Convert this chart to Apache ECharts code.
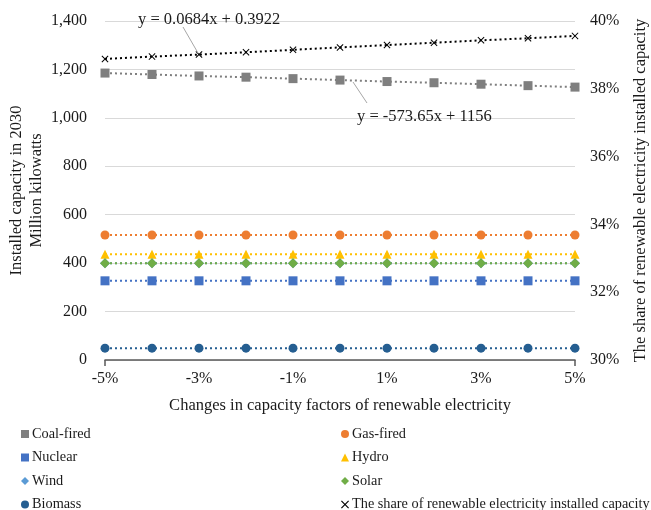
<!DOCTYPE html>
<html><head><meta charset="utf-8">
<script src="https://cdn.jsdelivr.net/npm/echarts@6/dist/echarts.min.js"></script>
<style>html,body{margin:0;padding:0;background:#fff}#c{width:651px;height:510px}</style>
</head><body><div id="c"></div>
<script>
var categories = ['-5%','-4%','-3%','-2%','-1%','0%','1%','2%','3%','4%','5%'];
var coalFired = [1185,1179,1173,1168,1162,1156,1150,1145,1139,1133,1127];
var gasFired  = [516,516,516,516,516,516,516,516,516,516,516];
var nuclear   = [327,327,327,327,327,327,327,327,327,327,327];
var hydro     = [437,437,437,437,437,437,437,437,437,437,437];
var wind      = [400,400,400,400,400,400,400,400,400,400,400];
var solar     = [400,400,400,400,400,400,400,400,400,400,400];
var biomass   = [49,49,49,49,49,49,49,49,49,49,49];
var renewShare = [38.88,38.95,39.01,39.08,39.15,39.22,39.29,39.36,39.43,39.49,39.56]; // percent
var leftTicks = {min:0, max:1400, interval:200};
var rightTicks = {min:30, max:40, interval:2};

var FONT = '"Liberation Serif","Times New Roman",serif';
var crossPath = 'path://M1,0L5,4L9,0L10,1L6,5L10,9L9,10L5,6L1,10L0,9L4,5L0,1Z';

function mk(name, data, color, symbol, size, yIdx){
  return {
    name:name, type:'line', data:data, yAxisIndex:yIdx||0,
    symbol:symbol, symbolSize:size,
    itemStyle:{color:color},
    lineStyle:{color:color, type:[2,3], width:2},
    emphasis:{disabled:true}, animation:false
  };
}

var chart = echarts.init(document.getElementById('c'), null, {renderer:'canvas'});
var option = {
  animation:false,
  textStyle:{fontFamily:FONT},
  grid:{left:105, right:76, top:21, bottom:150, containLabel:false, outerBoundsMode:'none'},
  xAxis:{
    type:'category', data:categories, boundaryGap:false,
    axisLine:{lineStyle:{color:'#595959', width:1.5}},
    axisTick:{show:true, length:6, lineStyle:{color:'#595959',width:1.5}, interval:function(i){return i===0||i===categories.length-1;}},
    axisLabel:{interval:1, color:'#1a1a1a', fontSize:16, fontFamily:FONT, margin:11},
    name:'Changes in capacity factors of renewable electricity',
    nameLocation:'middle', nameGap:37,
    nameTextStyle:{fontSize:16.5, color:'#1a1a1a', fontFamily:FONT},
    splitLine:{show:false}
  },
  yAxis:[{
    type:'value', min:leftTicks.min, max:leftTicks.max, interval:leftTicks.interval,
    axisLine:{show:false}, axisTick:{show:false},
    axisLabel:{color:'#1a1a1a', fontSize:16, fontFamily:FONT, margin:18,
      formatter:function(v){return v.toLocaleString('en-US');}},
    splitLine:{lineStyle:{color:'#d9d9d9', width:1}},
    name:'Installed capacity in 2030\nMillion kilowatts',
    nameLocation:'middle', nameGap:58, nameRotate:90, nameMoveOverlap:false,
    nameTextStyle:{fontSize:16.5, color:'#1a1a1a', fontFamily:FONT, lineHeight:20}
  },{
    type:'value', position:'right', min:rightTicks.min, max:rightTicks.max, interval:rightTicks.interval,
    axisLine:{show:false}, axisTick:{show:false},
    axisLabel:{color:'#1a1a1a', fontSize:16, fontFamily:FONT, margin:15, formatter:'{value}%'},
    splitLine:{show:false},
    name:'The share of renewable electricity installed capacity',
    nameLocation:'middle', nameGap:57, nameRotate:90, nameMoveOverlap:false,
    nameTextStyle:{fontSize:16.5, color:'#1a1a1a', fontFamily:FONT}
  }],
  legend:[{
    orient:'vertical', left:16, top:422, height:100, itemGap:9.5, itemWidth:8, itemHeight:8,
    textStyle:{fontSize:14.3, fontFamily:FONT, color:'#1a1a1a', padding:[0,0,0,-2]},
    data:[{name:'Coal-fired',icon:'rect'},{name:'Nuclear',icon:'rect'},{name:'Wind',icon:'diamond'},{name:'Biomass',icon:'circle'}]
  },{
    orient:'vertical', left:336, top:422, height:100, itemGap:9.5, itemWidth:8, itemHeight:8,
    textStyle:{fontSize:14.3, fontFamily:FONT, color:'#1a1a1a', padding:[0,0,0,-2]},
    data:[{name:'Gas-fired',icon:'circle'},{name:'Hydro',icon:'triangle'},{name:'Solar',icon:'diamond'},{name:'The share of renewable electricity installed capacity',icon:crossPath}]
  }],
  series:[
    mk('Coal-fired', coalFired, '#7f7f7f', 'rect', 9),
    mk('Gas-fired', gasFired, '#ED7D31', 'circle', 9),
    mk('Nuclear', nuclear, '#4472C4', 'rect', 9),
    mk('Hydro', hydro, '#FFC000', 'triangle', 9),
    mk('Wind', wind, '#5B9BD5', 'diamond', 10),
    mk('Solar', solar, '#70AD47', 'diamond', 10),
    mk('Biomass', biomass, '#255E91', 'circle', 9),
    mk('The share of renewable electricity installed capacity', renewShare, '#000000', crossPath, 7, 1)
  ],
  graphic:[
    {type:'line', shape:{x1:183,y1:27,x2:198,y2:53}, style:{stroke:'#a6a6a6', lineWidth:1}, z:10},
    {type:'text', left:138, top:11, style:{text:'y = 0.0684x + 0.3922', font:'16.5px '+FONT, fill:'#1a1a1a'}, z:11},
    {type:'line', shape:{x1:353,y1:82,x2:367,y2:103}, style:{stroke:'#a6a6a6', lineWidth:1}, z:10},
    {type:'text', left:357, top:108, style:{text:'y = -573.65x + 1156', font:'16.5px '+FONT, fill:'#1a1a1a'}, z:11}
  ]
};
chart.setOption(option);
</script></body></html>
